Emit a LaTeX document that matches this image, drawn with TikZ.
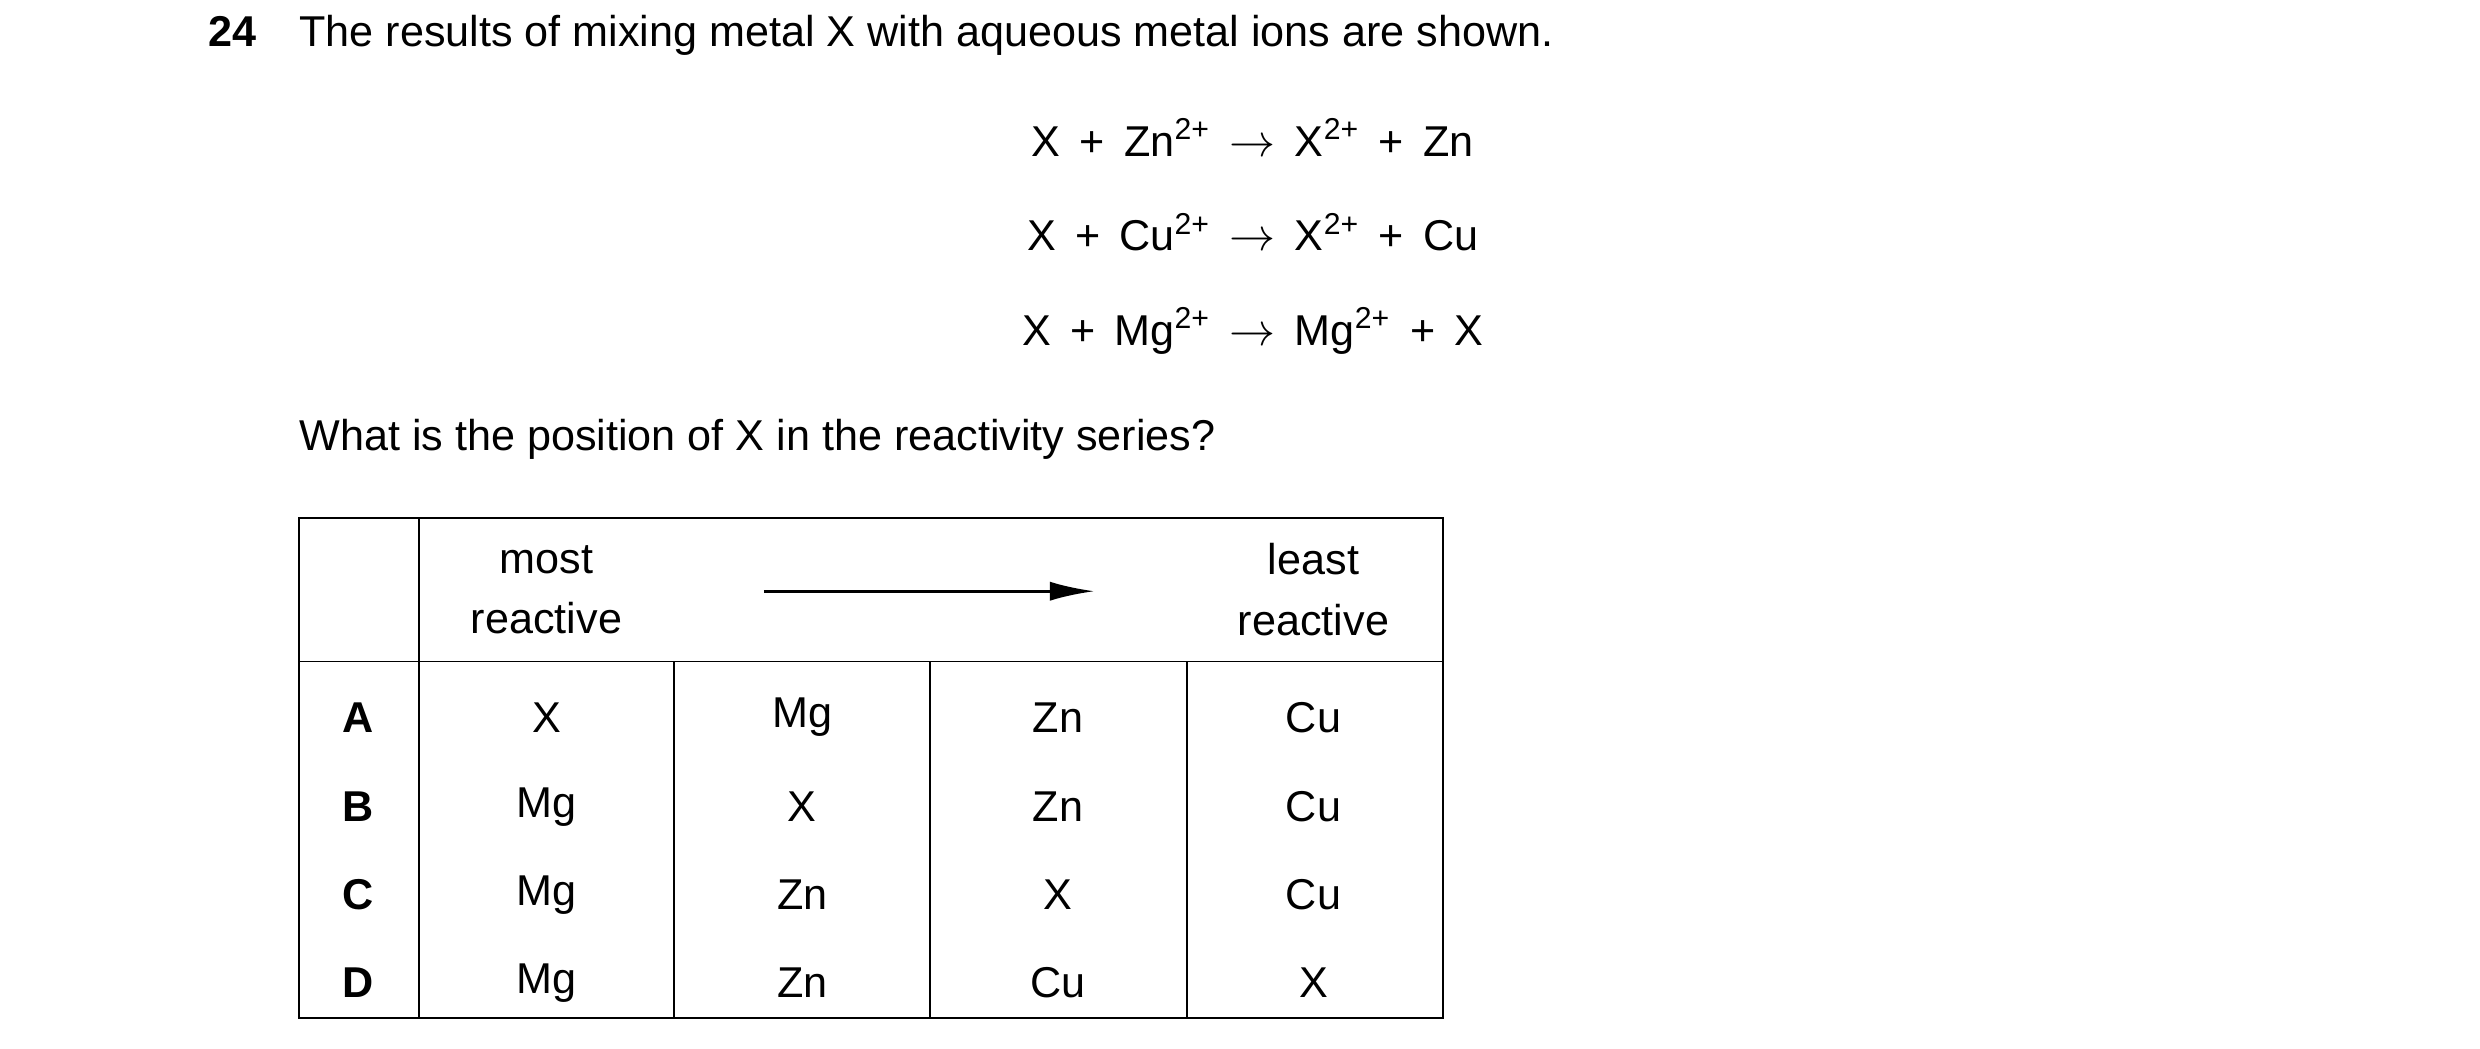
\documentclass[tikz,border=0pt]{standalone}
\usepackage{fontspec}
\setmainfont{Liberation Sans}
\usetikzlibrary{arrows.meta}
\begin{document}
\begin{tikzpicture}[x=0.5pt,y=-0.5pt,
  t/.style={font=\fontsize{13.5}{16}\selectfont,inner sep=0pt},
  c/.style={t,anchor=center},
  b/.style={c,font=\fontsize{13.5}{16}\selectfont\bfseries},
  ln/.style={line width=0.6pt}]
\useasboundingbox (0,0) rectangle (1552,656);
\node[t,anchor=base west,font=\fontsize{13.5}{16}\selectfont\bfseries] (num) at (130,29) {24};
\node[t,anchor=base west] (q1) at (187,29) {The results of mixing metal X with aqueous metal ions are shown.};
\node[t,anchor=base] (e1) at (784,98) {X\, +\, Zn\textsuperscript{2+}\, $\rightarrow$\, X\textsuperscript{2+}\, +\, Zn};
\node[t,anchor=base] (e2) at (784,157) {X\, +\, Cu\textsuperscript{2+}\, $\rightarrow$\, X\textsuperscript{2+}\, +\, Cu};
\node[t,anchor=base] (e3) at (784,216) {X\, +\, Mg\textsuperscript{2+}\, $\rightarrow$\, Mg\textsuperscript{2+}\, +\, X};
\node[t,anchor=base west] (q2) at (187,282) {What is the position of X in the reactivity series?};
% table
\draw[ln] (187,324) rectangle (903,637);
\draw[ln] (187,414) -- (903,414);
\draw[ln] (262,324) -- (262,637);
\foreach \x in {422,582,743} \draw[ln] (\x,414) -- (\x,637);
\node[c,align=center] (mr) at (342,369) {most\\[3pt]reactive};
\node[c,align=center] (lr) at (822,369) {least\\[3pt]reactive};
\coordinate (a1) at (478,370);
\coordinate (a2) at (685,370);
\draw[line width=1pt,-{Latex[length=14pt,width=6pt]}] (a1) -- (a2);
\foreach \l/\y/\p/\q/\r/\s in {A/449/X/Mg/Zn/Cu, B/505/Mg/X/Zn/Cu, C/560/Mg/Zn/X/Cu, D/615/Mg/Zn/Cu/X}{
  \node[b] (r\l) at (224,\y) {\l};
  \node[c] (r\l1) at (342,\y) {\p};
  \node[c] (r\l2) at (502,\y) {\q};
  \node[c] (r\l3) at (662,\y) {\r};
  \node[c] (r\l4) at (822,\y) {\s};
}
\end{tikzpicture}
\end{document}
